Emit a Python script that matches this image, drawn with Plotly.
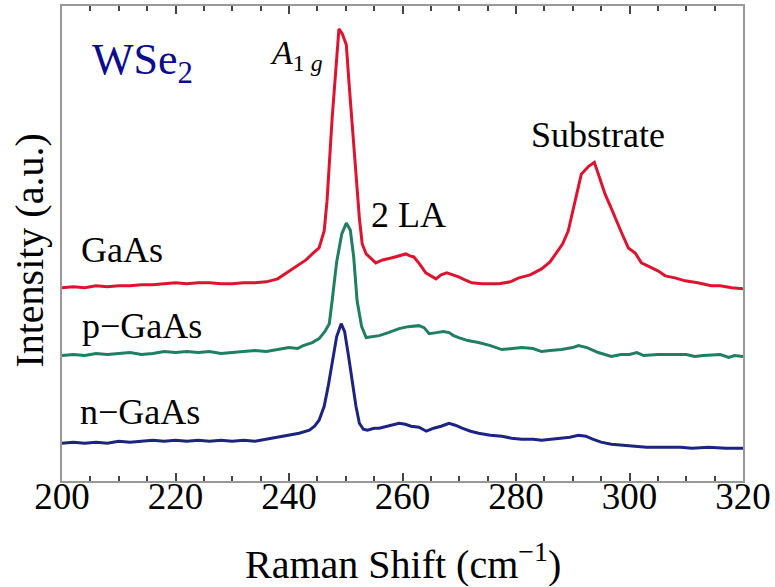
import plotly.graph_objects as go

# Raman shift (cm^-1) and intensity (a.u.)
gaas_x = [200, 202, 204, 206, 208, 210, 212, 214, 216, 218, 220, 222, 224, 226, 228, 230, 232, 234, 236, 238,
          240.1, 241.8, 243, 244.1, 245.3, 246.2, 246.7, 247.6, 248.3, 248.8, 249.4, 250.1, 250.6, 251.5, 252.4,
          252.9, 253.6, 255.3, 256.5, 258, 259.5, 260.6, 261.3, 262, 263, 264.1, 265.9, 266.8, 267.8, 269,
          269.9, 271, 272.2, 274, 277, 279, 280.5, 282.5, 284.5, 286, 287, 288.2, 289.2, 290.4, 291.5, 292.8,
          293.8, 294.7, 295.7, 296.7, 297.7, 298.7, 299.8, 301, 302.1, 303.8, 305, 306.3, 308, 309.8, 312,
          314.4, 316, 318, 320]
gaas_y = [194, 195, 194, 196, 195, 196, 196, 197, 197, 198, 199, 198, 199, 199, 198, 198, 199, 199, 200, 203,
          211, 218, 222, 228, 234, 251, 281, 364, 414, 454, 449, 438, 398, 331, 264,
          238, 228, 219, 222, 224, 226, 228, 226, 225, 218, 209, 203, 207, 209, 207,
          205, 202, 199, 198, 198, 200, 204, 207, 213, 220, 228, 238, 251, 280, 308, 316,
          320, 305, 288, 275, 261, 248, 234, 229, 219, 214, 211, 206, 204, 201, 199,
          196, 196, 194, 193]

pgaas_x = [200, 202, 204, 206, 208, 210, 212, 214, 216, 218, 220, 222, 224, 226, 228, 230, 232, 234, 236, 238,
           240, 241.5, 242.5, 244.1, 245.3, 246.3, 247.1, 247.6, 248.4, 249.3, 250.1, 250.8, 251.4, 252, 252.8,
           253.6, 255, 255.9, 257.5, 259.4, 261, 262.9, 263.8, 264.7, 266, 267.2, 268.2, 269, 269.9, 271.5,
           273.4, 275.5, 277.5, 279, 281, 283, 284.5, 286, 288, 290, 291, 292.5, 294.5, 296.8, 298.5, 300,
           301.3, 302.5, 305, 308, 310, 311.5, 313, 316, 317.5, 318.5, 320]
pgaas_y = [126, 127, 126, 128, 127, 128, 129, 127, 128, 130, 129, 130, 129, 130, 128, 129, 130, 131, 130, 132,
           134, 133, 136, 139, 143, 150, 158, 181, 220, 248, 259, 252, 225, 181, 155,
           144, 145, 146, 149, 153, 155, 156, 154, 148, 149, 150, 149, 146, 144, 141,
           139, 136, 132, 133, 134, 133, 130, 131, 132, 134, 136, 134, 129, 125, 127, 127,
           129, 126, 127, 127, 127, 125, 126, 127, 124, 126, 125]

ngaas_x = [200, 202, 204, 206, 208, 210, 212, 214, 216, 218, 220, 222, 224, 226, 228, 230, 232, 234, 236, 238,
           240, 241.8, 243.6, 244.5, 245.3, 246.2, 246.9, 247.6, 248.4, 249.2, 249.8, 250.5, 251.1, 251.8, 252.4,
           253.1, 253.8, 255, 255.9, 257.5, 259.4, 260.5, 261.5, 262.9, 264.2, 265.5, 266.8, 268.2, 269.3, 270.5,
           272, 273.4, 275.5, 277.5, 279.2, 281, 283, 284.5, 286, 288, 289.5, 291, 292.3, 293.5, 295, 296.8,
           299, 301, 303, 306, 309, 311, 314, 317, 320]
ngaas_y = [38, 39, 38, 39, 38, 40, 39, 40, 41, 40, 41, 40, 41, 40, 41, 40, 41, 40, 42, 44,
           46, 48, 51, 55, 61, 75, 95, 118, 145, 158, 150, 125, 101, 75, 58,
           52, 51, 53, 53, 55, 58, 57, 55, 54, 50, 53, 55, 58, 56, 53,
           50, 48, 46, 45, 43, 42, 42, 41, 42, 43, 44, 46, 45, 42, 39, 37,
           36, 35, 34, 34, 34, 33, 34, 33, 33]

series_names = ["GaAs", "p\u2212GaAs", "n\u2212GaAs"]
series_colors = ["#dc1430", "#1f7f5e", "#1c2480"]

x_ticks = [200, 220, 240, 260, 280, 300, 320]
x_range = [200, 320]

FONT = "'Liberation Serif', 'Times New Roman', serif"

fig = go.Figure()
for xs, ys, name, col in [(gaas_x, gaas_y, series_names[0], series_colors[0]),
                          (pgaas_x, pgaas_y, series_names[1], series_colors[1]),
                          (ngaas_x, ngaas_y, series_names[2], series_colors[2])]:
    assert len(xs) == len(ys), name
    fig.add_trace(go.Scatter(x=xs, y=ys, mode="lines", name=name,
                             line=dict(color=col, width=3), showlegend=False))

ann = []
def add(text, x, y, size=36, color="black", **kw):
    ann.append(dict(text=text, x=x, y=y, xref="x", yref="y", showarrow=False,
                    font=dict(family=FONT, size=size, color=color), **kw))

add("WSe<sub>2</sub>", 214.2, 420, size=44, color="#0b0b8c")
add("<i>A</i><sub>1 <i>g</i></sub>", 241.3, 428, size=34)
add("2 LA", 261.1, 267)
add("Substrate", 294.5, 347)
add(series_names[0], 210.5, 232)
add(series_names[1], 214.1, 156)
add(series_names[2], 213.7, 69)

ann.append(dict(text="Raman Shift (cm<sup>\u22121</sup>)", x=0.5, y=-0.17, xref="paper", yref="paper",
                showarrow=False, yanchor="middle", font=dict(family=FONT, size=40, color="black")))
ann.append(dict(text="Intensity (a.u.)", x=-0.047, y=0.485, xref="paper", yref="paper", textangle=-90,
                showarrow=False, xanchor="center", yanchor="middle",
                font=dict(family=FONT, size=40, color="black")))

fig.update_layout(
    width=775, height=587,
    margin=dict(l=62, r=30, t=4, b=106),
    paper_bgcolor="white", plot_bgcolor="white",
    annotations=ann,
    xaxis=dict(range=x_range, tickvals=x_ticks, showticklabels=False,
               ticks="inside", ticklen=8, tickwidth=2, tickcolor="#444444",
               showline=True, linecolor="#999999", linewidth=1.5, mirror="ticks",
               showgrid=False, zeroline=False,
               minor=dict(dtick=5, tick0=200, ticks="inside", ticklen=5, tickwidth=1.5,
                          tickcolor="#444444", showgrid=False)),
    # tick-label-only axis, sitting slightly above the frame so labels sit closer
    xaxis2=dict(range=x_range, tickvals=x_ticks, ticktext=[str(t) for t in x_ticks],
                overlaying="x", anchor="free", position=0.021, side="bottom",
                ticks="", showline=False, showgrid=False, zeroline=False,
                tickfont=dict(family=FONT, size=37, color="black")),
    yaxis=dict(range=[0, 477], showticklabels=False, ticks="",
               showline=True, linecolor="#999999", linewidth=1.5, mirror=True,
               showgrid=False, zeroline=False),
)
# an invisible trace to activate the label axis
fig.add_trace(go.Scatter(x=x_range, y=[None, None], xaxis="x2", mode="lines",
                         showlegend=False, hoverinfo="skip"))

fig.write_html("out.html")
